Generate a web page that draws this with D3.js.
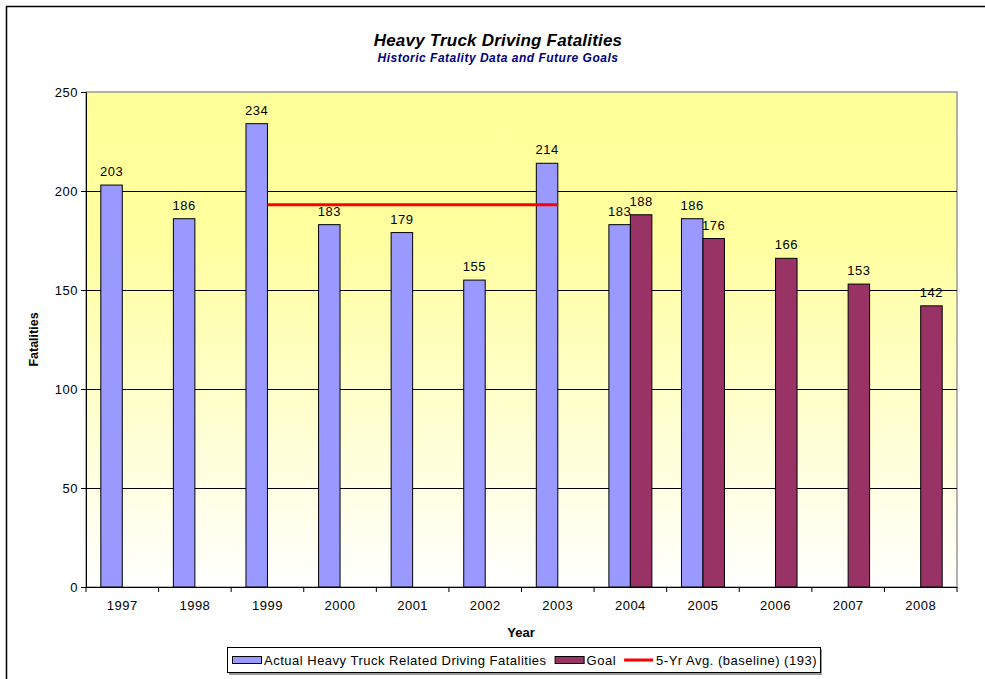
<!DOCTYPE html>
<html>
<head>
<meta charset="utf-8">
<script src="https://cdn.jsdelivr.net/npm/d3@7"></script>
<style>
  body { margin: 0; background: #fff; }
  text { font-family: Arial, "Liberation Sans", sans-serif; }
</style>
</head>
<body>
<div id="chart"></div>
<script>
const years = ["1997", "1998", "1999", "2000", "2001", "2002", "2003", "2004", "2005", "2006", "2007", "2008"];
const actual = [203, 186, 234, 183, 179, 155, 214, 183, 186, null, null, null];
const goal = [null, null, null, null, null, null, null, 188, 176, 166, 153, 142];
const baseline = [null, null, 193, 193, 193, 193, 193, null, null, null, null, null];
const yTicks = [0, 50, 100, 150, 200, 250];

const W = 985, H = 679;
const PLOT = {left: 86, right: 957, top: 92, bottom: 587};
const FS = 13, LS = 0.5; // label font size + spacing

const svg = d3.select("#chart").append("svg")
  .attr("width", W)
  .attr("height", H);

// gradient for plot background
const grad = svg.append("defs").append("linearGradient")
  .attr("id", "bg").attr("x1", 0).attr("y1", 0).attr("x2", 0).attr("y2", 1);
grad.append("stop").attr("offset", "0%").attr("stop-color", "#ffff99");
grad.append("stop").attr("offset", "30%").attr("stop-color", "#ffffa0");
grad.append("stop").attr("offset", "100%").attr("stop-color", "#ffffff");

// outer chart border
svg.append("rect")
  .attr("x", 6.5).attr("y", 6.5)
  .attr("width", 1000).attr("height", 700)
  .attr("fill", "none").attr("stroke", "#000").attr("stroke-width", 1.5);

const x = d3.scaleBand()
  .domain(years)
  .range([PLOT.left, PLOT.right]);

const y = d3.scaleLinear()
  .domain([0, 250])
  .range([PLOT.bottom, PLOT.top]);

const barW = x.bandwidth() * 0.296;
const groupOff = x.bandwidth() / 2 - barW;

svg.append("rect")
  .attr("x", PLOT.left).attr("y", PLOT.top)
  .attr("width", PLOT.right - PLOT.left).attr("height", PLOT.bottom - PLOT.top)
  .attr("fill", "url(#bg)")
  .attr("stroke", "#999").attr("stroke-width", 1.5);

// gridlines
svg.append("g").selectAll("line")
  .data(yTicks.filter(d => d > 0 && d < 250))
  .join("line")
    .attr("x1", PLOT.left).attr("x2", PLOT.right)
    .attr("y1", d => Math.round(y(d)) + 0.5).attr("y2", d => Math.round(y(d)) + 0.5)
    .attr("stroke", "#000").attr("stroke-width", 1);

// bars
const actualData = years.map((yr, i) => ({yr, v: actual[i]})).filter(d => d.v != null);
const goalData = years.map((yr, i) => ({yr, v: goal[i]})).filter(d => d.v != null);

svg.append("g").selectAll("rect")
  .data(actualData)
  .join("rect")
    .attr("x", d => x(d.yr) + groupOff)
    .attr("y", d => y(d.v))
    .attr("width", barW)
    .attr("height", d => y(0) - y(d.v))
    .attr("fill", "#9999ff")
    .attr("stroke", "#000").attr("stroke-width", 1);

svg.append("g").selectAll("rect")
  .data(goalData)
  .join("rect")
    .attr("x", d => x(d.yr) + groupOff + barW)
    .attr("y", d => y(d.v))
    .attr("width", barW)
    .attr("height", d => y(0) - y(d.v))
    .attr("fill", "#993366")
    .attr("stroke", "#000").attr("stroke-width", 1);

// bar value labels
svg.append("g").selectAll("text")
  .data(actualData)
  .join("text")
    .attr("x", d => x(d.yr) + groupOff + barW / 2)
    .attr("y", d => y(d.v) - 9)
    .attr("text-anchor", "middle")
    .attr("font-size", FS).attr("letter-spacing", LS)
    .attr("fill", "#000")
    .text(d => d.v);

svg.append("g").selectAll("text")
  .data(goalData)
  .join("text")
    .attr("x", d => x(d.yr) + groupOff + barW * 1.5)
    .attr("y", d => y(d.v) - 9)
    .attr("text-anchor", "middle")
    .attr("font-size", FS).attr("letter-spacing", LS)
    .attr("fill", "#000")
    .text(d => d.v);

// 5-yr baseline line
const lineData = years.map((yr, i) => ({yr, v: baseline[i]})).filter(d => d.v != null);
svg.append("path")
  .datum(lineData)
  .attr("fill", "none")
  .attr("stroke", "#ff0000")
  .attr("stroke-width", 3)
  .attr("d", d3.line()
    .x(d => x(d.yr) + x.bandwidth() / 2)
    .y(d => y(d.v)));

// axes
const yAxis = svg.append("g")
  .attr("transform", `translate(${PLOT.left},0)`)
  .call(d3.axisLeft(y).tickValues(yTicks).tickSize(5).tickPadding(3));
yAxis.select(".domain").attr("stroke", "#000");
yAxis.selectAll("text").attr("font-size", FS).attr("letter-spacing", LS)
  .attr("font-family", "Arial, 'Liberation Sans', sans-serif").attr("fill", "#000");

const xAxis = svg.append("g")
  .attr("transform", `translate(0,${PLOT.bottom})`)
  .call(d3.axisBottom(x).tickSize(0).tickPadding(14));
xAxis.select(".domain").attr("stroke", "#000");
xAxis.selectAll("text").attr("font-size", FS).attr("letter-spacing", LS)
  .attr("font-family", "Arial, 'Liberation Sans', sans-serif").attr("fill", "#000");

// category separators ticks
svg.append("g").selectAll("line")
  .data(years.concat(["end"]))
  .join("line")
    .attr("x1", (d, i) => PLOT.left + i * x.step())
    .attr("x2", (d, i) => PLOT.left + i * x.step())
    .attr("y1", PLOT.bottom).attr("y2", PLOT.bottom + 5)
    .attr("stroke", "#000");

// titles
svg.append("text")
  .attr("x", 498).attr("y", 46)
  .attr("text-anchor", "middle")
  .attr("font-size", 17).attr("letter-spacing", 0.2)
  .attr("font-weight", "bold").attr("font-style", "italic")
  .text("Heavy Truck Driving Fatalities");

svg.append("text")
  .attr("x", 498).attr("y", 62)
  .attr("text-anchor", "middle")
  .attr("font-size", 12).attr("letter-spacing", 0.5)
  .attr("font-weight", "bold").attr("font-style", "italic")
  .attr("fill", "#000080")
  .text("Historic Fatality Data and Future Goals");

svg.append("text")
  .attr("transform", `translate(38,${(PLOT.top + PLOT.bottom) / 2}) rotate(-90)`)
  .attr("text-anchor", "middle")
  .attr("font-size", 12.5).attr("font-weight", "bold")
  .text("Fatalities");

svg.append("text")
  .attr("x", 521).attr("y", 637)
  .attr("text-anchor", "middle")
  .attr("font-size", 13).attr("font-weight", "bold")
  .text("Year");

// legend
const lg = svg.append("g").attr("transform", "translate(227,647)");
const shadow = lg.append("rect").attr("x", 2).attr("y", 2).attr("height", 26).attr("fill", "#999");
const box = lg.append("rect").attr("x", 0.5).attr("y", 0.5).attr("height", 25)
  .attr("fill", "#fff").attr("stroke", "#000");

const legendItems = [
  {type: "bar", color: "#9999ff", label: "Actual Heavy Truck Related Driving Fatalities"},
  {type: "bar", color: "#993366", label: "Goal"},
  {type: "line", color: "#ff0000", label: "5-Yr Avg. (baseline) (193)"}
];
let cx = 5;
legendItems.forEach(it => {
  if (it.type === "bar") {
    lg.append("rect").attr("x", cx + 0.5).attr("y", 9.5).attr("width", 29).attr("height", 7)
      .attr("fill", it.color).attr("stroke", "#000");
  } else {
    lg.append("line").attr("x1", cx).attr("x2", cx + 29).attr("y1", 13).attr("y2", 13)
      .attr("stroke", it.color).attr("stroke-width", 3);
  }
  const t = lg.append("text").attr("x", cx + 32).attr("y", 18)
    .attr("font-size", FS).attr("letter-spacing", LS).attr("fill", "#000").text(it.label);
  cx += 32 + t.node().getComputedTextLength() + 8;
});
box.attr("width", cx - 5);
shadow.attr("width", cx - 5);
</script>
</body>
</html>
